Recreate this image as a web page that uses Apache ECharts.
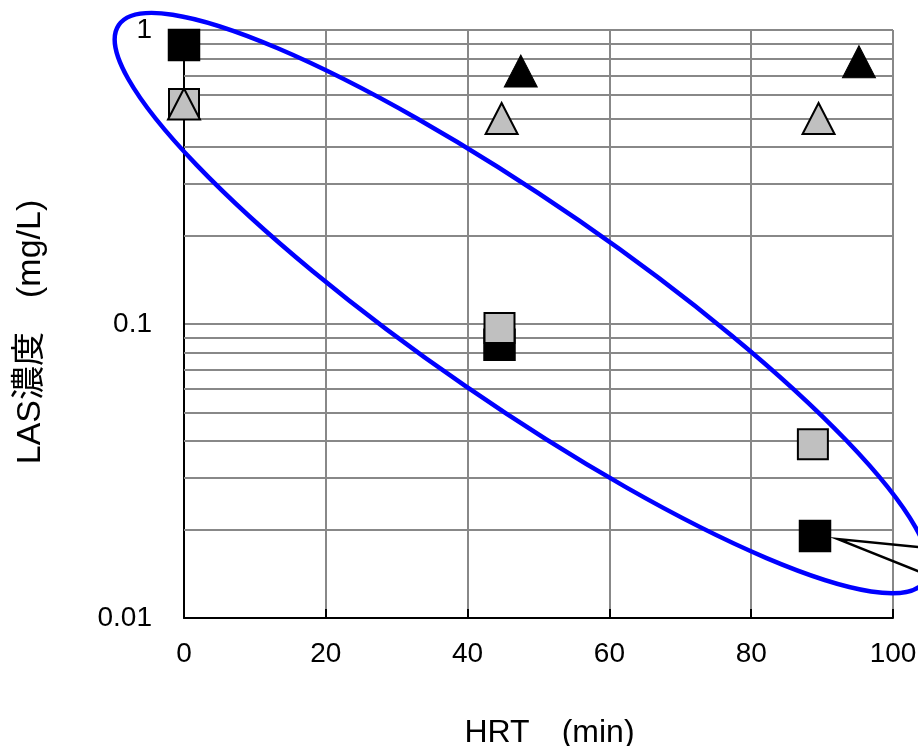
<!DOCTYPE html>
<html>
<head>
<meta charset="utf-8">
<script src="https://cdn.jsdelivr.net/npm/echarts@6/dist/echarts.min.js"></script>
<style>html,body{margin:0;padding:0;background:#fff}#c{width:918px;height:746px}</style>
</head>
<body>
<div id="c"></div>
<script>
// ---- data ----
const xAxisTicks = [0, 20, 40, 60, 80, 100];
const yAxisTicks = [0.01, 0.1, 1];
const minorGridValues = [0.02, 0.03, 0.04, 0.05, 0.06, 0.07, 0.08, 0.09, 0.2, 0.3, 0.4, 0.5, 0.6, 0.7, 0.8, 0.9];

const blackSquareX = [0, 44.5, 89];
const blackSquareY = [0.89, 0.085, 0.019];
const graySquareX = [0, 44.5, 88.7];
const graySquareY = [0.56, 0.097, 0.039];
const grayTriangleX = [0, 44.8, 89.5];
const grayTriangleY = [0.56, 0.50, 0.50];
const blackTriangleX = [47.5, 95.2];
const blackTriangleY = [0.725, 0.78];

// ellipse annotation: ends of major axis (data coords) and minor/major ratio
const ellipseEnds = [[-9.2, 1.04], [104.5, 0.01335]];
const ellipseRatio = 0.205;

const xName = 'HRT\u3000(min)';
const yName = 'LAS濃度\u3000(mg/L)';

const FONT = 'Arial, "Liberation Sans", "Noto Sans CJK JP", sans-serif';
const zip = (xs, ys) => xs.map((x, i) => [x, ys[i]]);

const chart = echarts.init(document.getElementById('c'), null, {renderer: 'canvas'});

const option = {
  animation: false,
  backgroundColor: '#fff',
  grid: {left: 184, right: 25, top: 30, bottom: 128, containLabel: false, outerBoundsMode: 'none'},
  xAxis: {
    type: 'value', min: xAxisTicks[0], max: xAxisTicks[xAxisTicks.length - 1], interval: 20,
    name: xName, nameLocation: 'middle', nameGap: 99,
    nameTextStyle: {fontFamily: FONT, fontSize: 32, color: '#000', padding: [0, 0, 0, 22]},
    axisLine: {show: true, onZero: false, lineStyle: {color: '#000', width: 2}},
    axisTick: {show: true, inside: true, length: 9, lineStyle: {color: '#000', width: 2}},
    axisLabel: {fontFamily: FONT, fontSize: 28, color: '#000', margin: 22},
    splitLine: {show: true, lineStyle: {color: '#888', width: 2}}
  },
  yAxis: {
    type: 'log', logBase: 10, min: yAxisTicks[0], max: yAxisTicks[yAxisTicks.length - 1],
    name: yName, nameLocation: 'middle', nameGap: 136,
    nameTextStyle: {fontFamily: FONT, fontSize: 34, color: '#000', padding: [0, 16, 0, 0]},
    axisLine: {show: true, onZero: false, lineStyle: {color: '#000', width: 2}},
    axisTick: {show: false},
    axisLabel: {fontFamily: FONT, fontSize: 28, color: '#000', margin: 32,
      formatter: v => String(v)},
    splitLine: {show: true, lineStyle: {color: '#888', width: 2}}
  },
  series: [
    {
      name: 'minor', type: 'line', data: [], silent: true, z: 1,
      markLine: {
        silent: true, symbol: 'none', animation: false, z: 1,
        label: {show: false},
        lineStyle: {color: '#888', width: 2, type: 'solid'},
        emphasis: {disabled: true},
        data: minorGridValues.map(v => ({yAxis: v}))
      }
    },
    {
      name: 'black square', type: 'scatter', clip: false, z: 10,
      symbol: 'rect', symbolSize: 31,
      itemStyle: {color: '#000', borderColor: '#000', borderWidth: 1.5, opacity: 1},
      data: zip(blackSquareX, blackSquareY)
    },
    {
      name: 'gray square', type: 'scatter', clip: false, z: 11,
      symbol: 'rect', symbolSize: 30,
      itemStyle: {color: '#c0c0c0', borderColor: '#000', borderWidth: 2, opacity: 1},
      data: zip(graySquareX, graySquareY)
    },
    {
      name: 'gray triangle', type: 'scatter', clip: false, z: 12,
      symbol: 'triangle', symbolSize: [32, 31],
      itemStyle: {color: '#c0c0c0', borderColor: '#000', borderWidth: 2, opacity: 1},
      data: zip(grayTriangleX, grayTriangleY)
    },
    {
      name: 'black triangle', type: 'scatter', clip: false, z: 12,
      symbol: 'triangle', symbolSize: [33, 32],
      itemStyle: {color: '#000', borderColor: '#000', borderWidth: 1, opacity: 1},
      data: zip(blackTriangleX, blackTriangleY)
    }
  ]
};
chart.setOption(option);

// annotations positioned via the axis scales
const e1 = chart.convertToPixel({gridIndex: 0}, ellipseEnds[0]);
const e2 = chart.convertToPixel({gridIndex: 0}, ellipseEnds[1]);
const dx = e2[0] - e1[0], dy = e2[1] - e1[1];
const semiMajor = Math.sqrt(dx * dx + dy * dy) / 2;
const sq = chart.convertToPixel({gridIndex: 0}, [blackSquareX[2], blackSquareY[2]]);
const start = [sq[0] + 23, sq[1] + 3];

chart.setOption({
  graphic: [
    {
      type: 'ellipse', silent: true, z: 100,
      x: (e1[0] + e2[0]) / 2, y: (e1[1] + e2[1]) / 2,
      rotation: -Math.atan2(dy, dx),
      shape: {cx: 0, cy: 0, rx: semiMajor, ry: semiMajor * ellipseRatio},
      style: {fill: null, stroke: '#0000ff', lineWidth: 4.5}
    },
    {
      type: 'polyline', silent: true, z: 99,
      shape: {points: [[start[0] + 120, start[1] + 12], start, [start[0] + 120, start[1] + 48]]},
      style: {fill: null, stroke: '#000', lineWidth: 2.5}
    }
  ]
});
</script>
</body>
</html>
